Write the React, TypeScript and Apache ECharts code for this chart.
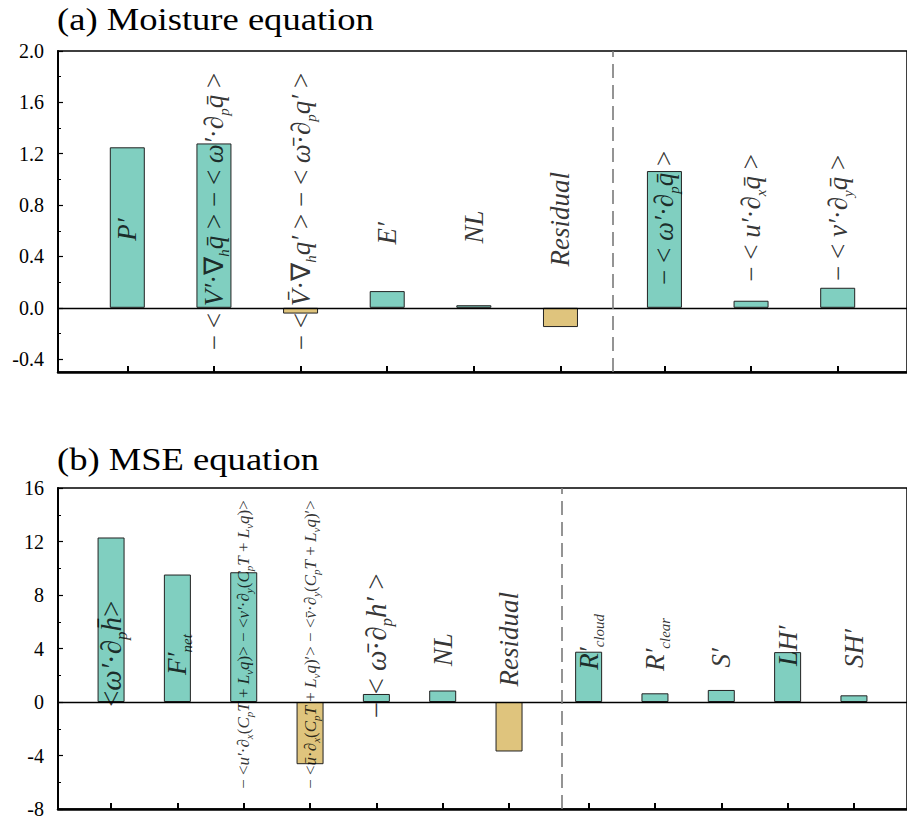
import React, { useEffect, useRef } from "react";
import * as echarts from "echarts";

// ---------------- Data ----------------
// (a) Moisture equation
const moistureX = [1, 2, 3, 4, 5, 6, 7.2, 8.2, 9.2];
const moistureValues = [1.25, 1.28, -0.045, 0.13, 0.02, -0.15, 1.065, 0.055, 0.156];
const moistureDivider = 6.6;
const moistureTicks = [-0.4, 0, 0.4, 0.8, 1.2, 1.6, 2.0];
const moistureMinorTicks = [-0.2, 0.2, 0.6, 1.0, 1.4, 1.8];
const moistureLabels = [
  "{m|P′}",
  "{u|− < }{m|V′}{u|·∇}{s|h}{m|q̄}{u| > − < }{m|ω′}{u|·∂}{s|p}{m|q̄}{u| >}",
  "{u|− < }{m|V̄}{u|·∇}{s|h}{m|q′}{u| > − < }{m|ω̄}{u|·∂}{s|p}{m|q′}{u| >}",
  "{m|E′}",
  "{m|NL}",
  "{m|Residual}",
  "{u|− < }{m|ω′}{u|·∂}{s|p}{m|q̄}{u| >}",
  "{u|− < }{m|u′}{u|·∂}{s|x}{m|q̄}{u| >}",
  "{u|− < }{m|v′}{u|·∂}{s|y}{m|q̄}{u| >}",
];

// (b) MSE equation
const mseX = [1, 2, 3, 4, 5, 6, 7, 8.2, 9.2, 10.2, 11.2, 12.2];
const mseValues = [12.3, 9.53, 9.7, -4.65, 0.6, 0.86, -3.7, 3.76, 0.65, 0.9, 3.73, 0.5];
const mseDivider = 7.8;
const mseTicks = [-8, -4, 0, 4, 8, 12, 16];
const mseMinorTicks = [-6, -2, 2, 6, 10, 14];
const mseLabels = [
  "{U|<}{M|ω′}{U|·∂}{S|p}{M|h̄}{U|>}",
  "{m|F′}{s|net}",
  "{a|− <}{ai|u′}{a|·∂}{as|x}{a|(}{ai|C}{as|p}{ai|T}{a| + }{ai|L}{as|v}{ai|q}{a|)> − <}{ai|v′}{a|·∂}{as|y}{a|(}{ai|C}{as|p}{ai|T}{a| + }{ai|L}{as|v}{ai|q}{a|)>}",
  "{a|− <}{ai|ū}{a|·∂}{as|x}{a|(}{ai|C}{as|p}{ai|T}{a| + }{ai|L}{as|v}{ai|q}{a|)′> − <}{ai|v̄}{a|·∂}{as|y}{a|(}{ai|C}{as|p}{ai|T}{a| + }{ai|L}{as|v}{ai|q}{a|)′>}",
  "{U|− < }{M|ω̄}{U|·∂}{S|p}{M|h′}{U| >}",
  "{m|NL}",
  "{m|Residual}",
  "{m|R′}{s|cloud}",
  "{m|R′}{s|clear}",
  "{m|S′}",
  "{m|LH′}",
  "{m|SH′}",
];

// ---------------- Layout (label anchor heights, in axis units) ----------------
const moistureLabelY = [0.61, 0.75, 0.75, 0.58, 0.63, 0.69, 0.7, 0.7, 0.7];
const mseLabelY = [3.6, 3.55, 4.3, 4.3, 4.2, 3.9, 4.7, 4.5, 4.3, 3.3, 4.2, 4.0];

const FONT = "Liberation Serif";
const TEAL = "#80CFC0";
const TAN = "#DFC47D";

function richSet(main: number, sub: number) {
  const lh = Math.round(main * 1.3);
  return {
    m: { fontFamily: FONT, fontStyle: "italic", fontSize: main, lineHeight: lh, color: "#000" },
    u: { fontFamily: FONT, fontSize: main, lineHeight: lh, color: "#000" },
    s: { fontFamily: FONT, fontStyle: "italic", fontSize: sub, lineHeight: sub, verticalAlign: "bottom", color: "#000" },
    M: { fontFamily: FONT, fontStyle: "italic", fontSize: 29, lineHeight: 38, color: "#000" },
    U: { fontFamily: FONT, fontSize: 29, lineHeight: 38, color: "#000" },
    S: { fontFamily: FONT, fontStyle: "italic", fontSize: 17, lineHeight: 17, verticalAlign: "bottom", color: "#000" },
    a: { fontFamily: FONT, fontSize: 17, lineHeight: 22, color: "#000" },
    ai: { fontFamily: FONT, fontStyle: "italic", fontSize: 17, lineHeight: 22, color: "#000" },
    as: { fontFamily: FONT, fontStyle: "italic", fontSize: 11, lineHeight: 11, verticalAlign: "bottom", color: "#000" },
  };
}

function panel(
  idx: number,
  xs: number[],
  vals: number[],
  labels: string[],
  labelY: number[],
  divider: number,
  barWidth: number,
  rich: any
) {
  return [
    {
      type: "bar",
      xAxisIndex: idx,
      yAxisIndex: idx * 2,
      data: xs.map((x, i) => [x, vals[i]]),
      barWidth,
      itemStyle: {
        color: (p: any) => (p.value[1] < 0 ? TAN : TEAL),
        borderColor: "#222",
        borderWidth: 1,
      },
      markLine: {
        silent: true,
        symbol: ["none", "none"],
        label: { show: false },
        data: [
          { yAxis: 0, lineStyle: { color: "#000", width: 1.3, type: "solid" } },
          { xAxis: divider, lineStyle: { color: "#7a7a7a", width: 1.6, type: [14, 7] } },
        ],
      },
      z: 2,
    },
    {
      type: "scatter",
      xAxisIndex: idx,
      yAxisIndex: idx * 2,
      data: xs.map((x, i) => [x, labelY[i]]),
      symbolSize: 1,
      itemStyle: { color: "rgba(0,0,0,0)" },
      label: {
        show: true,
        position: "inside",
        rotate: 90,
        align: "center",
        verticalAlign: "middle",
        formatter: (p: any) => labels[p.dataIndex],
        rich,
      },
      z: 10,
    },
  ];
}

function yAxes(gridIndex: number, min: number, max: number, ticks: number[], minor: number[], fmt: (v: number) => string) {
  return [
    {
      gridIndex,
      type: "value",
      min,
      max,
      axisLine: { show: true, onZero: false, lineStyle: { color: "#000", width: 2 } },
      axisTick: { show: true, inside: true, length: 5, customValues: ticks, lineStyle: { color: "#000", width: 1.2 } },
      axisLabel: {
        show: true,
        customValues: ticks,
        formatter: (v: number) => fmt(v),
        fontFamily: FONT,
        fontSize: 20,
        color: "#000",
        margin: 14,
      },
      splitLine: { show: false },
    },
    {
      gridIndex,
      type: "value",
      min,
      max,
      position: "left",
      axisLine: { show: false },
      axisTick: { show: true, inside: true, length: 3, customValues: minor, lineStyle: { color: "#000", width: 1 } },
      axisLabel: { show: false },
      splitLine: { show: false },
    },
  ];
}

function xAxis(gridIndex: number, min: number, max: number, ticks: number[]) {
  return {
    gridIndex,
    type: "value",
    min,
    max,
    axisLine: { show: true, onZero: false, lineStyle: { color: "#000", width: 2.5 } },
    axisTick: { show: true, inside: true, length: 6, customValues: ticks, lineStyle: { color: "#000", width: 2 } },
    axisLabel: { show: false },
    splitLine: { show: false },
  };
}

export default function App() {
  const ref = useRef<HTMLDivElement>(null);
  useEffect(() => {
    if (!ref.current) return;
    const chart = echarts.init(ref.current, undefined, { renderer: "svg" });
    const aUnit = 89.3;
    const bUnit = 68;
    const option: any = {
      animation: false,
      backgroundColor: "#fff",
      textStyle: { fontFamily: FONT },
      grid: [
        { left: 58, top: 51, width: (10 - 0.2) * aUnit, height: 321, show: true, borderColor: "#000", borderWidth: 1.5, backgroundColor: "transparent" },
        { left: 58, top: 488, width: (13 - 0.2) * bUnit, height: 322, show: true, borderColor: "#000", borderWidth: 1.5, backgroundColor: "transparent" },
      ],
      xAxis: [xAxis(0, 0.2, 10, moistureX), xAxis(1, 0.2, 13, mseX)],
      yAxis: [
        ...yAxes(0, -0.5, 2.0, moistureTicks, moistureMinorTicks, (v) => v.toFixed(1)),
        ...yAxes(1, -8, 16, mseTicks, mseMinorTicks, (v) => String(Math.round(v))),
      ],
      series: [
        ...panel(0, moistureX, moistureValues, moistureLabels, moistureLabelY, moistureDivider, 35, richSet(27, 15)),
        ...panel(1, mseX, mseValues, mseLabels, mseLabelY, mseDivider, 27, richSet(27, 15)),
      ],
      graphic: [
        { type: "text", x: 57, y: 4, scaleX: 1.18, style: { text: "(a) Moisture equation", fontFamily: FONT, fontSize: 31, fill: "#000" } },
        { type: "text", x: 57, y: 444, scaleX: 1.18, style: { text: "(b) MSE equation", fontFamily: FONT, fontSize: 31, fill: "#000" } },
      ],
    };
    chart.setOption(option);
    return () => chart.dispose();
  }, []);
  return <div ref={ref} style={{ position: "fixed", left: 0, top: 0, width: 907, height: 819 }} />;
}
